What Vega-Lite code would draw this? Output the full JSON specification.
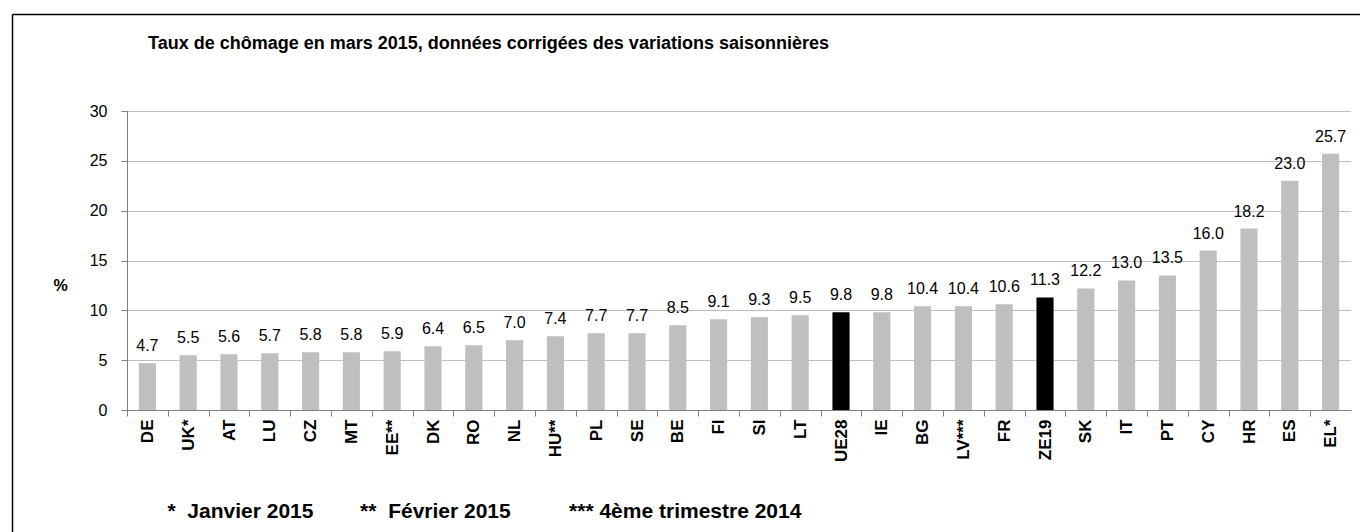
{
  "$schema": "https://vega.github.io/schema/vega-lite/v6.json",
  "autosize": {"type": "none"},
  "padding": {"left": 127, "top": 111, "right": 9, "bottom": 122},
  "width": 1224,
  "height": 299,
  "background": "white",
  "title": {
    "text": "Taux de chômage en mars 2015, données corrigées des variations saisonnières",
    "anchor": "start",
    "frame": "group",
    "font": "Liberation Sans",
    "fontSize": 18,
    "fontWeight": "bold",
    "color": "#000000",
    "baseline": "alphabetic",
    "offset": 0,
    "dx": 21,
    "dy": 53
  },
  "data": {
    "values": [
      {"pays": "DE", "taux": 4.7, "groupe": "pays"},
      {"pays": "UK*", "taux": 5.5, "groupe": "pays"},
      {"pays": "AT", "taux": 5.6, "groupe": "pays"},
      {"pays": "LU", "taux": 5.7, "groupe": "pays"},
      {"pays": "CZ", "taux": 5.8, "groupe": "pays"},
      {"pays": "MT", "taux": 5.8, "groupe": "pays"},
      {"pays": "EE**", "taux": 5.9, "groupe": "pays"},
      {"pays": "DK", "taux": 6.4, "groupe": "pays"},
      {"pays": "RO", "taux": 6.5, "groupe": "pays"},
      {"pays": "NL", "taux": 7.0, "groupe": "pays"},
      {"pays": "HU**", "taux": 7.4, "groupe": "pays"},
      {"pays": "PL", "taux": 7.7, "groupe": "pays"},
      {"pays": "SE", "taux": 7.7, "groupe": "pays"},
      {"pays": "BE", "taux": 8.5, "groupe": "pays"},
      {"pays": "FI", "taux": 9.1, "groupe": "pays"},
      {"pays": "SI", "taux": 9.3, "groupe": "pays"},
      {"pays": "LT", "taux": 9.5, "groupe": "pays"},
      {"pays": "UE28", "taux": 9.8, "groupe": "agregat"},
      {"pays": "IE", "taux": 9.8, "groupe": "pays"},
      {"pays": "BG", "taux": 10.4, "groupe": "pays"},
      {"pays": "LV***", "taux": 10.4, "groupe": "pays"},
      {"pays": "FR", "taux": 10.6, "groupe": "pays"},
      {"pays": "ZE19", "taux": 11.3, "groupe": "agregat"},
      {"pays": "SK", "taux": 12.2, "groupe": "pays"},
      {"pays": "IT", "taux": 13.0, "groupe": "pays"},
      {"pays": "PT", "taux": 13.5, "groupe": "pays"},
      {"pays": "CY", "taux": 16.0, "groupe": "pays"},
      {"pays": "HR", "taux": 18.2, "groupe": "pays"},
      {"pays": "ES", "taux": 23.0, "groupe": "pays"},
      {"pays": "EL*", "taux": 25.7, "groupe": "pays"}
    ]
  },
  "layer": [
    {
      "layer": [
        {
          "mark": {"type": "bar"},
          "encoding": {
            "color": {
              "field": "groupe",
              "type": "nominal",
              "scale": {"domain": ["pays", "agregat"], "range": ["#bfbfbf", "#000000"]},
              "legend": null
            }
          }
        },
        {
          "mark": {
            "type": "text",
            "baseline": "alphabetic",
            "align": "center",
            "dy": -12,
            "font": "Liberation Sans",
            "fontSize": 16,
            "color": "#000000"
          },
          "encoding": {
            "text": {"field": "taux", "type": "quantitative", "format": ".1f"}
          }
        }
      ],
      "encoding": {
        "x": {
          "field": "pays",
          "type": "nominal",
          "sort": null,
          "scale": {"paddingInner": 0.58, "paddingOuter": 0.29},
          "axis": {
            "orient": "bottom",
            "title": "*\u00a0\u00a0Janvier 2015\u00a0\u00a0\u00a0\u00a0\u00a0\u00a0\u00a0\u00a0**\u00a0\u00a0Février 2015\u00a0\u00a0\u00a0\u00a0\u00a0\u00a0\u00a0\u00a0\u00a0\u00a0***\u00a04ème trimestre 2014",
            "titleFont": "Liberation Sans",
            "titleFontSize": 21,
            "titleFontWeight": "bold",
            "titleColor": "#000000",
            "titleAnchor": "start",
            "titleAlign": "left",
            "titleBaseline": "alphabetic",
            "titleX": 40,
            "titleY": 107,
            "labelAngle": -90,
            "labelAlign": "right",
            "labelBaseline": "middle",
            "labelFont": "Liberation Sans",
            "labelFontSize": 17,
            "labelFontWeight": "bold",
            "labelColor": "#000000",
            "labelPadding": 3,
            "labelOffset": 20.4,
            "tickOffset": -20.4,
            "tickSize": 6,
            "tickColor": "#808080",
            "domainColor": "#808080",
            "labelOverlap": false,
            "grid": false
          }
        },
        "y": {
          "field": "taux",
          "type": "quantitative",
          "scale": {"domain": [0, 30], "nice": false},
          "axis": {
            "orient": "left",
            "values": [0, 5, 10, 15, 20, 25, 30],
            "title": "%",
            "titleAngle": 0,
            "titleFont": "Liberation Sans",
            "titleFontSize": 16,
            "titleFontWeight": "bold",
            "titleColor": "#000000",
            "titleAlign": "center",
            "titleBaseline": "middle",
            "titleX": -67,
            "titleY": 174,
            "labelFont": "Liberation Sans",
            "labelFontSize": 16,
            "labelColor": "#000000",
            "labelPadding": 14,
            "tickSize": 6,
            "tickColor": "#808080",
            "domainColor": "#808080",
            "grid": true,
            "gridColor": "#7f7f7f",
            "gridDash": [1, 1],
            "gridWidth": 1
          }
        }
      }
    },
    {
      "data": {"values": [{"cadre": 0}]},
      "mark": {"type": "point", "opacity": 0},
      "encoding": {
        "x": {
          "datum": 0,
          "type": "quantitative",
          "scale": {"domain": [0, 1], "range": [-115, 1233], "nice": false, "zero": false},
          "axis": {
            "orient": "top",
            "offset": 97,
            "title": null,
            "labels": false,
            "ticks": false,
            "grid": false,
            "domain": true,
            "domainColor": "#000000",
            "domainWidth": 1.5
          }
        },
        "y": {
          "datum": 0,
          "type": "quantitative",
          "scale": {"domain": [0, 1], "range": [421, -97], "nice": false, "zero": false},
          "axis": {
            "orient": "left",
            "offset": 115,
            "title": null,
            "labels": false,
            "ticks": false,
            "grid": false,
            "domain": true,
            "domainColor": "#000000",
            "domainWidth": 1.5
          }
        }
      }
    }
  ],
  "resolve": {"scale": {"x": "independent", "y": "independent"}, "axis": {"x": "independent", "y": "independent"}},
  "config": {
    "view": {"stroke": null}
  }
}
